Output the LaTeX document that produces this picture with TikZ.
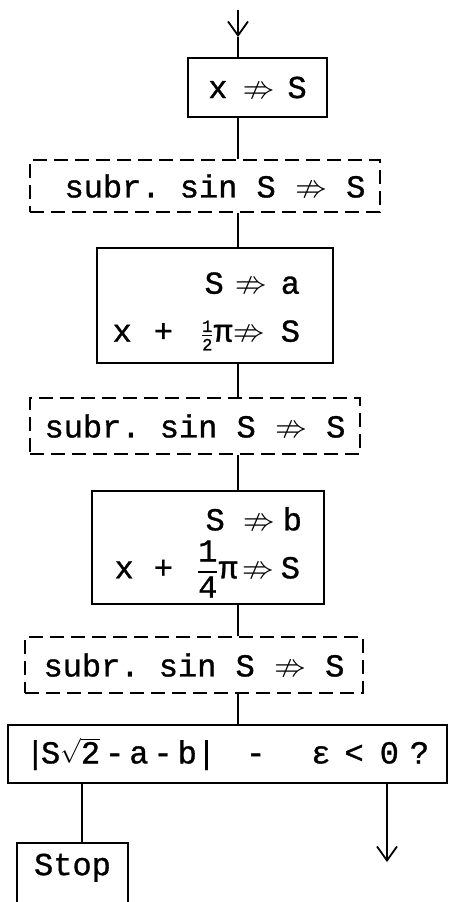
\documentclass[tikz,border=0pt]{standalone}
\usepackage{amsmath}
\usepackage{amssymb}
\usepackage{fontspec}
\setmonofont[FakeBold=1]{Liberation Mono}
\usetikzlibrary{arrows.meta, positioning}

\tikzset{
	box/.style={draw, line width=2.2pt, inner sep=0pt, font=\ttfamily\fontsize{32}{48}\selectfont},
	subbox/.style={box, line width=1.5pt, dash pattern=on 14pt off 7pt},
	flow/.style={line width=1.8pt},
	down/.style={flow, -{Straight Barb[length=14pt, width=20pt, line width=1.8pt]}}
}

\newcommand{\nto}{${\nRightarrow}$}
\newcommand{\halfpi}{$\frac{\mbox{\fontsize{17}{17}\selectfont 1}}{\mbox{\fontsize{17}{17}\selectfont 2}}$π}
\newcommand{\quarterpi}{$\dfrac{\mbox{1}}{\mbox{4}}$π}

\begin{document}
\begin{tikzpicture}[x=1pt, y=-1pt]
	\useasboundingbox (0,0) rectangle (448,902);
	\clip (0,0) rectangle (448,902);
	\coordinate (trunk) at (238,0);
	\coordinate (in) at (238,10);
	\coordinate (tip) at (238,37);
	\coordinate (no) at (387,862);
	% main column
	\node[box, minimum width=139, minimum height=59] (x1) at (257.5,87.5) {x\hspace{15pt}\nto\hspace{13pt}S\hspace{6pt}};
	\node[subbox, minimum width=350, minimum height=52] (sin1) at (205,186) {\hspace*{20pt}subr. sin S \nto\ S};
	\node[box, minimum width=236, minimum height=115, align=right, text width=236, text height=33] (a1) at (215,305.5)
		{S\hspace{11pt}\nto\hspace{14pt}a\kern33pt\\x\hspace{22pt}+\hspace{28pt}\halfpi\nto\hspace{16pt}S\kern33pt};
	\node[subbox, minimum width=330, minimum height=56] (sin2) at (195,426) {subr. sin S \nto\ S};
	\node[box, minimum width=232, minimum height=113, align=right, text width=232, text height=33] (b1) at (208,547.5)
		{S\hspace{18pt}\nto\hspace{8pt}b\kern22pt\\x\hspace{20pt}+\hspace{24pt}\quarterpi\hspace{4pt}\nto\hspace{7pt}S\kern24pt};
	\node[subbox, minimum width=338, minimum height=56] (sin3) at (194,665) {subr. sin S \nto\ S};
	\node[box, minimum width=439, minimum height=58] (test) at (227.5,754)
		{|\kern-4pt S$\sqrt{\mbox{2}}$\hspace{5pt}-\hspace{5pt}a\hspace{5pt}-\hspace{5pt}b|\hspace{30pt}-\hspace{46pt}ε\hspace{14pt}<\hspace{16pt}0\hspace{11pt}?};
	\node[box, anchor=north, minimum width=111, text height=32, text depth=60] (stop) at (72.5,842) {Stop};
	% connectors
	\draw[down] (in) -- (tip);
	\draw[flow] (tip) -- (trunk |- x1.north);
	\foreach \u/\v in {x1/sin1, sin1/a1, a1/sin2, sin2/b1, b1/sin3, sin3/test}
		\draw[flow] (trunk |- \u.south) -- (trunk |- \v.north);
	\draw[flow] ([xshift=9.5]stop.north) -- ([xshift=9.5]stop.north |- test.south);
	\draw[down] (no |- test.south) -- (no);
\end{tikzpicture}
\end{document}
